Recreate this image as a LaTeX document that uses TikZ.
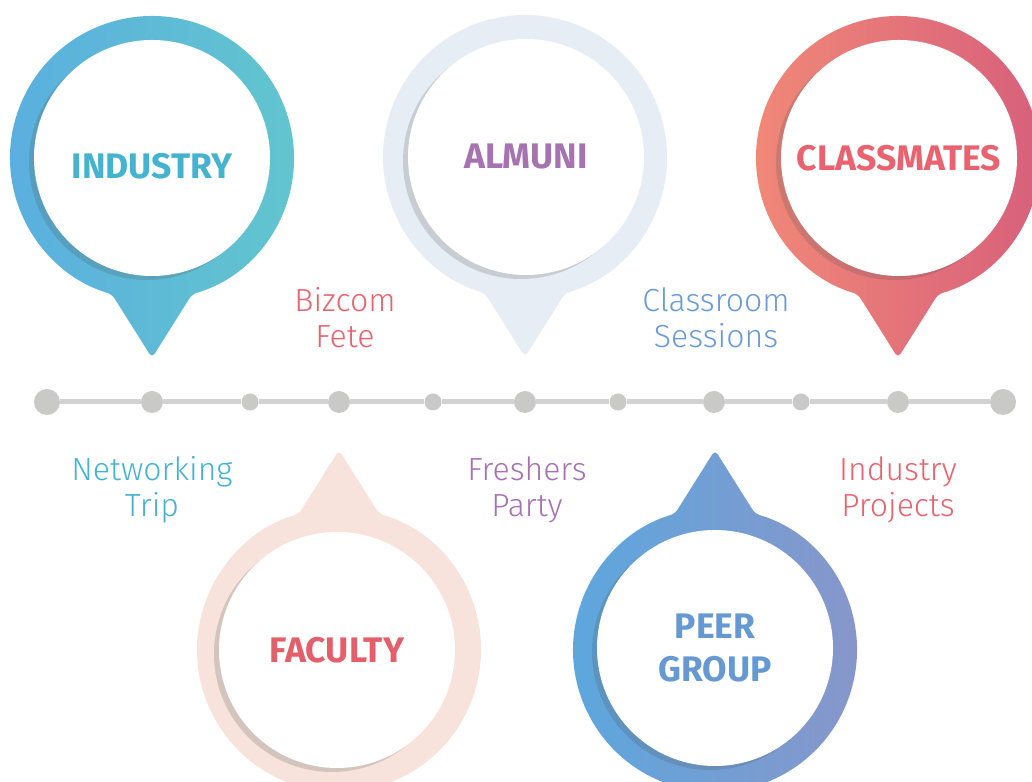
\documentclass[tikz,border=0pt]{standalone}
\usepackage{fontspec}
\setmainfont{Fira Sans}
\newfontfamily\lightfont{Fira Sans Light}
\usetikzlibrary{shadows}
% ring colours (left/right of each gradient) and text colours
\definecolor{industryL}{HTML}{5AAEE0}
\definecolor{industryR}{HTML}{62C6CD}
\definecolor{industryT}{HTML}{45B3D0}
\definecolor{alumniRing}{HTML}{E7EDF5}
\definecolor{alumniT}{HTML}{A673B1}
\definecolor{classL}{HTML}{F28A78}
\definecolor{classR}{HTML}{D65E7B}
\definecolor{classT}{HTML}{E8636F}
\definecolor{facultyRing}{HTML}{F7E3DB}
\definecolor{facultyT}{HTML}{E35F69}
\definecolor{peerL}{HTML}{5AA8DF}
\definecolor{peerR}{HTML}{8A95C9}
\definecolor{peerT}{HTML}{6699D2}
\definecolor{eventBlue}{HTML}{6B9BD6}
\definecolor{dotgray}{HTML}{C9C9C8}
\definecolor{linegray}{HTML}{D2D2D2}
\tikzset{
  pinhead/.style={circle,fill=white,minimum size=236pt,inner sep=0pt,align=center,
    font=\bfseries\fontsize{35.5}{43}\selectfont,
    drop shadow={shadow xshift=-5pt,shadow yshift=-4pt,opacity=.2,fill=black!70}},
  event/.style={align=center,font=\lightfont\fontsize{32}{36}\selectfont},
  bigdot/.style={circle,fill=dotgray,minimum size=26pt,inner sep=0pt},
  middot/.style={circle,fill=dotgray,minimum size=22pt,inner sep=0pt},
  smalldot/.style={circle,fill=dotgray,minimum size=17pt,inner sep=0pt},
}
\begin{document}
\begin{tikzpicture}[x=1pt,y=1pt]
\clip (0,0) rectangle (1032,781);
\pgfmathsetmacro{\ro}{142}
%
% timeline
\foreach \x/\s [count=\i] in {47/bigdot,152/middot,250/smalldot,339/middot,433/smalldot,
  525/middot,618/smalldot,714/middot,801/smalldot,898/middot,1003/bigdot}{
  \node[\s] (t\i) at (\x,379) {};}
\foreach \i [evaluate=\i as \j using int(\i+1)] in {1,...,10}{
  \draw[linegray,line width=5pt] (t\i) -- (t\j);}
%
% pins: ring + tip, flipped for the lower ones
\foreach \x/\y/\s/\cl/\cr in {152/623/1/industryL/industryR,525/624/1/alumniRing/alumniRing,
  898/623/1/classL/classR,339/131/-1/facultyRing/facultyRing,715/131/-1/peerL/peerR}{
\begin{scope}[shift={(\x,\y)},yscale=\s]
\shade[left color=\cl,right color=\cr,rounded corners=5pt]
  (-73.6:\ro) arc[start angle=-73.6,end angle=253.6,radius=\ro] -- (0,-200) -- cycle;
\end{scope}
}
%
\node[pinhead,text=industryT] (industry) at (152,623) {\raisebox{-8pt}[\height][\depth]{INDUSTRY}};
\node[pinhead,text=alumniT] (alumni) at (526,624) {ALMUNI};
\node[pinhead,text=classT] (classmates) at (899,623) {CLASSMATES};
\node[pinhead,text=facultyT] (faculty) at (337,131) {FACULTY};
\node[pinhead,text=peerT] (peer) at (715,133) {PEER\\GROUP};
%
% events along the line
\node[event,text=classT] (bizcom) at (345,463) {Bizcom\\Fete};
\node[event,text=eventBlue] (classroom) at (716,463) {Classroom\\Sessions};
\node[event,text=industryT] (networking) at (152,291) {Networking\\Trip};
\node[event,text=alumniT] (freshers) at (527,291) {Freshers\\Party};
\node[event,text=classT] (projects) at (898,291) {Industry\\Projects};
\end{tikzpicture}
\end{document}
